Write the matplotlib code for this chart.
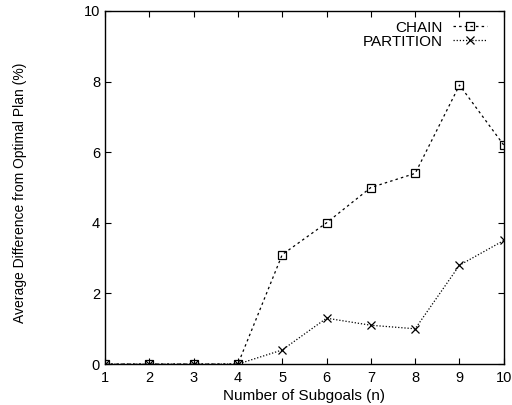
import matplotlib
matplotlib.use("Agg")
import matplotlib.pyplot as plt

plt.rcParams['font.family'] = ['Liberation Sans', 'DejaVu Sans']

subgoals = [1, 2, 3, 4, 5, 6, 7, 8, 9, 10]
chain = [0, 0, 0, 0, 3.1, 4.0, 5.0, 5.4, 7.9, 6.2]
partition = [0, 0, 0, 0, 0.4, 1.3, 1.1, 1.0, 2.8, 3.5]

fig = plt.figure(figsize=(5.12, 4.05), dpi=100)
ax = fig.add_axes([0.205, 0.101, 0.779, 0.872])

ax.plot(subgoals, chain, color="black", linestyle=(0, (2, 2.5)), linewidth=0.9,
        marker="s", markersize=6, markerfacecolor="none", markeredgewidth=0.9,
        label="CHAIN")
ax.plot(subgoals, partition, color="black", linestyle=(0, (1, 1.5)), linewidth=0.9,
        marker="x", markersize=6, markeredgewidth=0.9, label="PARTITION")

ax.set_xlim(1, 10)
ax.set_ylim(0, 10)
ax.set_xticks(subgoals)
ax.set_yticks([0, 2, 4, 6, 8, 10])
ax.tick_params(direction="in", top=True, right=True, length=4, labelsize=10.5, width=0.8)
ax.tick_params(axis="x", pad=5)
ax.tick_params(axis="y", pad=3.5)
for s in ax.spines.values():
    s.set_linewidth(1.0)

ax.set_xlabel("Number of Subgoals (n)", fontsize=11)
ax.xaxis.set_label_coords(0.5, -0.07)
ax.set_ylabel("Average Difference from Optimal Plan (%)", fontsize=10)
ax.yaxis.set_label_coords(-0.195, 0.485)

ax.legend(loc="upper right", bbox_to_anchor=(0.972, 0.99), frameon=False,
          markerfirst=False, fontsize=11, handlelength=2.2, handletextpad=0.65,
          borderaxespad=0, labelspacing=0.0)

fig.savefig("out.png", dpi=100)
plt.close(fig)
